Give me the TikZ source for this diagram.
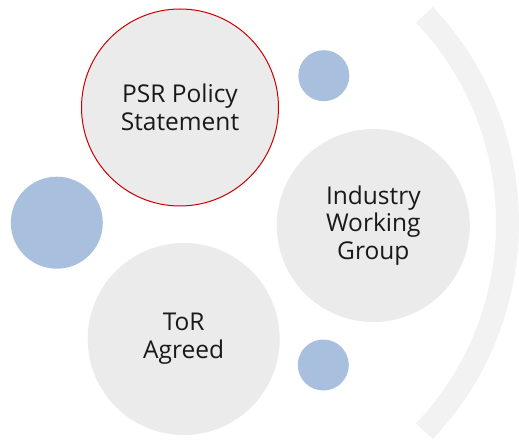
\documentclass[tikz,border=0pt]{standalone}
\usepackage{fontspec}
\setmainfont{Open Sans}
\definecolor{circgray}{HTML}{EBEBEB}
\definecolor{arcgray}{HTML}{F2F2F2}
\definecolor{dotblue}{HTML}{A8C0DE}
\definecolor{rimred}{HTML}{CC0000}
\begin{document}
\begin{tikzpicture}[x=1pt,y=-1pt,
  bigcirc/.style={circle,fill=circgray,inner sep=0pt,align=center,text=black!90,
    font=\fontsize{24.5}{27.7}\selectfont},
  dot/.style={circle,fill=dotblue,inner sep=0pt}]
\useasboundingbox (0,0) rectangle (519,443);
\coordinate (arcc) at (205,223);
\draw[arcgray,line width=23pt] (arcc) ++(-43.5:302.5pt) arc[start angle=-43.5,end angle=43.5,radius=302.5pt];
\node[bigcirc,draw=rimred,line width=1pt,minimum size=197pt] (psr) at (180,107.5) {PSR Policy\\Statement};
\node[bigcirc,minimum size=193pt] (iwg) at (373.3,225.5) {Industry\\Working\\Group};
\node[bigcirc,minimum size=192pt] (tor) at (183.7,339) {ToR\\Agreed};
\node[dot,minimum size=51pt] (d1) at (323.8,75.7) {};
\node[dot,minimum size=92pt] (d2) at (56.8,222.7) {};
\node[dot,minimum size=51pt] (d3) at (323.3,365) {};
\end{tikzpicture}
\end{document}
